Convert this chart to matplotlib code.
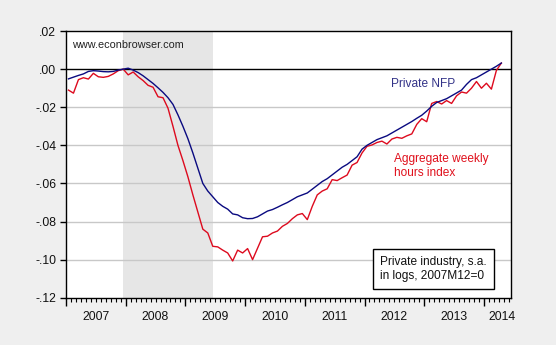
import matplotlib
matplotlib.use("Agg")
import matplotlib.pyplot as plt
from matplotlib.ticker import FixedLocator, FuncFormatter, MultipleLocator

plt.rcParams['font.family'] = ['Liberation Sans', 'DejaVu Sans']

start_year = 2007
private_nfp = [
    -0.0051, -0.0042, -0.0033, -0.0025, -0.0012, -0.0008, -0.0010, -0.0013, -0.0014, -0.0012, -0.0005, 0.0000,
    0.0005, -0.0005, -0.0018, -0.0035, -0.0055, -0.0075, -0.0098, -0.0122, -0.0150, -0.0185, -0.0240, -0.0300,
    -0.0365, -0.0440, -0.0520, -0.0600, -0.0640, -0.0670, -0.0700, -0.0720, -0.0735, -0.0760, -0.0765, -0.0780,
    -0.0785, -0.0784, -0.0775, -0.0760, -0.0745, -0.0737, -0.0725, -0.0712, -0.0700, -0.0685, -0.0670, -0.0660,
    -0.0650, -0.0630, -0.0610, -0.0590, -0.0575, -0.0555, -0.0535, -0.0515, -0.0500, -0.0480, -0.0460, -0.0420,
    -0.0400, -0.0385, -0.0370, -0.0360, -0.0350, -0.0335, -0.0320, -0.0305, -0.0290, -0.0275, -0.0258, -0.0242,
    -0.0220, -0.0195, -0.0175, -0.0165, -0.0155, -0.0140, -0.0125, -0.0110, -0.0080, -0.0055, -0.0045, -0.0030,
    -0.0015, 0.0000, 0.0015, 0.0032,
]
agg_hours = [
    -0.0110, -0.0126, -0.0055, -0.0045, -0.0052, -0.0022, -0.0040, -0.0043, -0.0038, -0.0025, -0.0008, 0.0000,
    -0.0030, -0.0015, -0.0040, -0.0060, -0.0085, -0.0095, -0.0145, -0.0150, -0.0205, -0.0300, -0.0400, -0.0480,
    -0.0565, -0.0660, -0.0750, -0.0840, -0.0860, -0.0930, -0.0933, -0.0950, -0.0965, -0.1007, -0.0950, -0.0965,
    -0.0942, -0.1000, -0.0940, -0.0880, -0.0877, -0.0860, -0.0850, -0.0825, -0.0810, -0.0785, -0.0765, -0.0758,
    -0.0790, -0.0720, -0.0660, -0.0640, -0.0628, -0.0580, -0.0585, -0.0570, -0.0556, -0.0504, -0.0490, -0.0440,
    -0.0405, -0.0398, -0.0385, -0.0378, -0.0393, -0.0367, -0.0358, -0.0363, -0.0350, -0.0340, -0.0290, -0.0260,
    -0.0276, -0.0180, -0.0170, -0.0183, -0.0165, -0.0180, -0.0140, -0.0120, -0.0126, -0.0100, -0.0065, -0.0100,
    -0.0074, -0.0105, -0.0007, 0.0032,
]
recession = (2007 + 11.5 / 12, 2009 + 5.5 / 12)
year_labels = ['2007', '2008', '2009', '2010', '2011', '2012', '2013', '2014']
y_ticks = [0.02, 0.00, -0.02, -0.04, -0.06, -0.08, -0.10, -0.12]

dates = [start_year + (i + 0.5) / 12 for i in range(len(private_nfp))]

fig = plt.figure(figsize=(5.56, 3.45), dpi=100, facecolor='#EFEFEF')
ax = fig.add_axes([0.1187, 0.137, 0.80, 0.773])
ax.set_facecolor('white')

ax.axvspan(recession[0], recession[1], color='#E6E6E6', lw=0, zorder=0)
for yt in y_ticks[1:-1]:
    if yt != 0:
        ax.axhline(yt, color='#C8C8C8', lw=1.0, zorder=1)
ax.axhline(0, color='black', lw=1.0, zorder=2)

ax.plot(dates, agg_hours, color='#DD0A1E', lw=1.0, zorder=3)
ax.plot(dates, private_nfp, color='#0A0A80', lw=1.0, zorder=4)

ax.set_xlim(2007.0, 2014.45)
ax.set_ylim(-0.12, 0.02)

years = [int(y) for y in year_labels]
ax.xaxis.set_major_locator(FixedLocator(years))
ax.xaxis.set_minor_locator(MultipleLocator(1 / 12))
ax.set_xticklabels([])
for y, lab in zip(years, year_labels):
    ax.text(y + 0.5 if y < 2014 else y + 0.3, -0.1272, lab, ha='center', va='top',
            fontsize=8.8, color='#111111', transform=ax.transData, clip_on=False)

ax.yaxis.set_major_locator(FixedLocator(y_ticks))
ax.yaxis.set_major_formatter(FuncFormatter(
    lambda v, p: ('-' if v < -1e-9 else '') + ('%.2f' % abs(v))[1:]))
ax.tick_params(axis='y', direction='out', length=4, width=1, pad=3,
               labelsize=8.8, colors='black', labelcolor='#111111')
ax.tick_params(axis='x', which='major', direction='out', length=6, width=1)
ax.tick_params(axis='x', which='minor', direction='out', length=3, width=0.8)
ax.tick_params(top=False, right=False)
for s in ax.spines.values():
    s.set_color('black')
    s.set_linewidth(1.0)

ax.text(0.013, 0.965, 'www.econbrowser.com', transform=ax.transAxes,
        fontsize=7.8, color='#222222', ha='left', va='top')
ax.text(0.73, 0.80, 'Private NFP', transform=ax.transAxes,
        fontsize=8.6, color='#333388', ha='left', va='center')
ax.text(0.737, 0.494, 'Aggregate weekly\nhours index', transform=ax.transAxes,
        fontsize=8.6, color='#E0101C', ha='left', va='center', linespacing=1.2)
ax.text(0.706, 0.108, 'Private industry, s.a.\nin logs, 2007M12=0', transform=ax.transAxes,
        fontsize=8.6, color='#111111', ha='left', va='center', linespacing=1.2,
        bbox=dict(boxstyle='square,pad=0.6', facecolor='white', edgecolor='black', lw=1.0))

fig.savefig('out.png', dpi=100, facecolor=fig.get_facecolor())
